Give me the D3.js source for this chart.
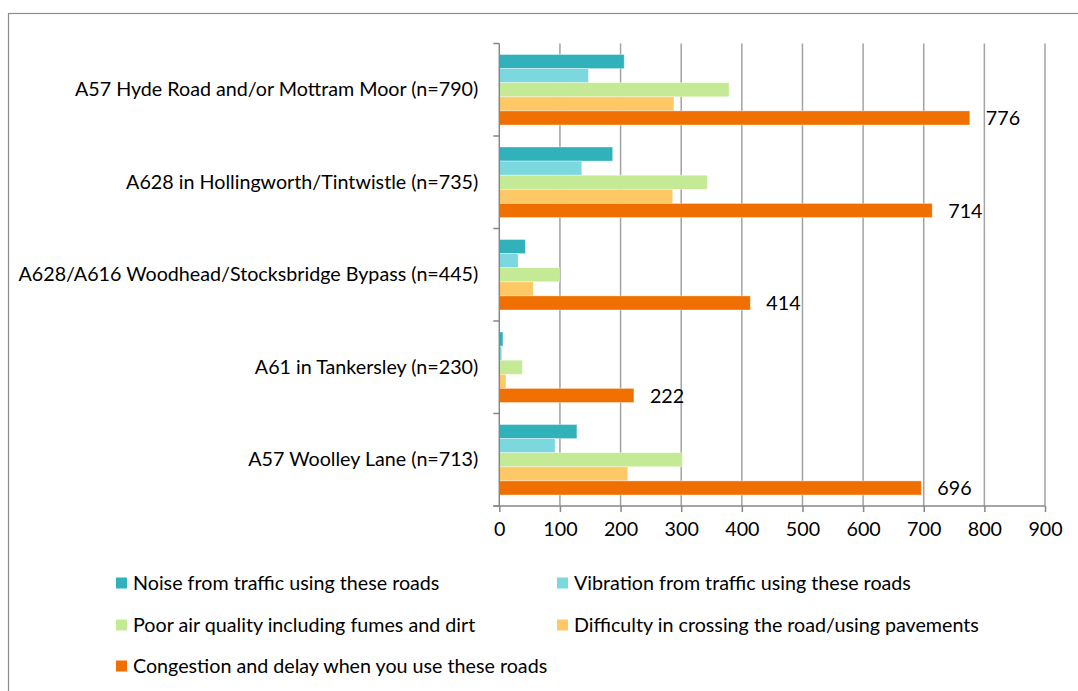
<!DOCTYPE html>
<html>
<head>
<meta charset="utf-8">
<script src="https://cdn.jsdelivr.net/npm/d3@7/dist/d3.min.js"></script>
<style>
  html, body { margin: 0; padding: 0; background: #fff; }
  svg { display: block; }
  text { font-family: Lato, "Open Sans", sans-serif; fill: #000; }
</style>
</head>
<body>
<svg id="chart" width="1078" height="691"></svg>
<script>
// Roads surveyed (top to bottom)
const categories = [
  "A57 Hyde Road and/or Mottram Moor (n=790)",
  "A628 in Hollingworth/Tintwistle (n=735)",
  "A628/A616 Woodhead/Stocksbridge Bypass (n=445)",
  "A61 in Tankersley (n=230)",
  "A57 Woolley Lane (n=713)"
];

const seriesNames = [
  "Noise from traffic using these roads",
  "Vibration from traffic using these roads",
  "Poor air quality including fumes and dirt",
  "Difficulty in crossing the road/using pavements",
  "Congestion and delay when you use these roads"
];

// Number of respondents citing each issue, per road
const noise      = [206, 187, 43, 6, 128];
const vibration  = [147, 136, 31, 4, 92];
const airQuality = [379, 343, 99, 38, 302];
const crossing   = [288, 286, 56, 11, 212];
const congestion = [776, 714, 414, 222, 696];

const xTicks = [0, 100, 200, 300, 400, 500, 600, 700, 800, 900];

const seriesValues = [noise, vibration, airQuality, crossing, congestion];
const colors = ["#31b1ba", "#7bd8de", "#c5ea95", "#ffc866", "#ef7000"];

const FS = 19.7;
const svg = d3.select("#chart");

// outer chart frame
svg.append("rect")
  .attr("x", 8.5).attr("y", 13.5)
  .attr("width", 1200).attr("height", 800)
  .attr("fill", "none").attr("stroke", "#8c8c8c").attr("stroke-width", 1.2);

const plot = { left: 499.3, right: 1045, top: 43.5, bottom: 506 };

const x = d3.scaleLinear().domain([0, 900]).range([plot.left, plot.right]);
const y = d3.scaleBand().domain(categories).range([plot.top, plot.bottom]).padding(0);
const inner = d3.scaleBand().domain(d3.range(seriesNames.length))
  .range([0, y.bandwidth()]).paddingInner(0).paddingOuter(0.78);

// vertical gridlines
svg.append("g")
  .selectAll("line")
  .data(xTicks.filter(d => d > 0))
  .join("line")
  .attr("x1", d => x(d)).attr("x2", d => x(d))
  .attr("y1", plot.top).attr("y2", plot.bottom)
  .attr("stroke", "#a3a3a3").attr("stroke-width", 1.5);

// bars
const rows = categories.map((c, i) => ({ cat: c, i }));
const groups = svg.append("g").selectAll("g")
  .data(rows).join("g")
  .attr("transform", d => `translate(0,${y(d.cat)})`);

groups.selectAll("rect")
  .data(d => seriesValues.map((vals, s) => ({ s, v: vals[d.i] })))
  .join("rect")
  .attr("x", x(0))
  .attr("y", d => inner(d.s))
  .attr("width", d => x(d.v) - x(0))
  .attr("height", inner.bandwidth())
  .attr("fill", d => colors[d.s])
  .attr("stroke", "rgba(255,255,255,0.45)")
  .attr("stroke-width", 0.8);

// value labels on congestion bars
groups.append("text")
  .attr("x", d => x(congestion[d.i]) + 16)
  .attr("y", d => inner(4) + inner.bandwidth() / 2)
  .attr("dy", "0.36em")
  .attr("font-size", FS)
  .text(d => congestion[d.i]);

// bottom axis
const xAxis = d3.axisBottom(x).tickValues(xTicks).tickSize(6).tickSizeOuter(0).tickPadding(10);
const gx = svg.append("g")
  .attr("transform", `translate(0,${plot.bottom})`)
  .call(xAxis);
gx.select(".domain").attr("stroke", "#878787").attr("stroke-width", 1.5)
  .attr("d", `M${plot.left - 6},0H${plot.right}`);
gx.selectAll(".tick line").attr("stroke", "#878787").attr("stroke-width", 1.5);
gx.selectAll(".tick text").attr("font-size", FS).attr("font-family", "Lato, sans-serif").attr("fill", "#000");

// left axis with category labels
const yAxis = d3.axisLeft(y).tickSize(0).tickPadding(21);
const gy = svg.append("g")
  .attr("transform", `translate(${plot.left},0)`)
  .call(yAxis);
gy.select(".domain").attr("stroke", "#878787").attr("stroke-width", 1.5)
  .attr("d", `M0,${plot.top}V${plot.bottom}`);
gy.selectAll(".tick text").attr("font-size", FS).attr("font-family", "Lato, sans-serif").attr("fill", "#000");

// tick marks at category boundaries
const bounds = categories.map(c => y(c)).concat([y.range()[1]]);
svg.append("g").selectAll("line")
  .data(bounds).join("line")
  .attr("x1", plot.left - 6).attr("x2", plot.left)
  .attr("y1", d => d).attr("y2", d => d)
  .attr("stroke", "#878787").attr("stroke-width", 1.5);

// legend
const legendPos = [
  [116, 583], [557, 583],
  [116, 625], [557, 625],
  [116, 666]
];
const legend = svg.append("g").selectAll("g")
  .data(seriesNames).join("g")
  .attr("transform", (d, i) => `translate(${legendPos[i][0]},${legendPos[i][1]})`);
legend.append("rect")
  .attr("x", 0).attr("y", -5.5).attr("width", 11).attr("height", 11)
  .attr("fill", (d, i) => colors[i]);
legend.append("text")
  .attr("x", 17).attr("dy", "0.36em")
  .attr("font-size", FS)
  .text(d => d);
</script>
</body>
</html>
